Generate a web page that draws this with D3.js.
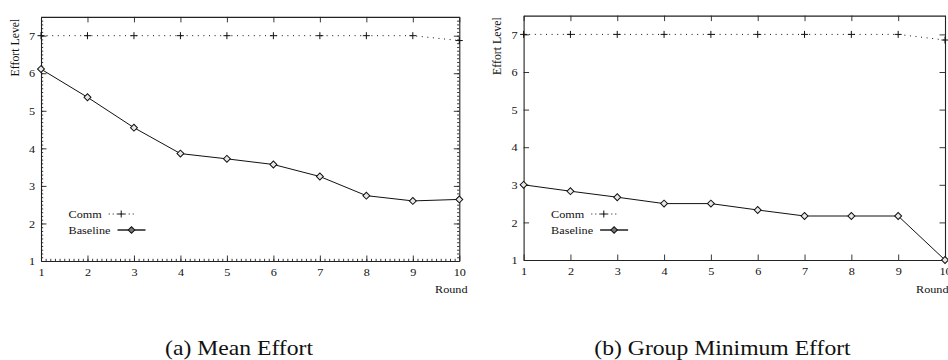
<!DOCTYPE html>
<html>
<head>
<meta charset="utf-8">
<script src="https://cdn.jsdelivr.net/npm/d3@7/dist/d3.min.js"></script>
<style>
  html, body { margin: 0; padding: 0; background: #fff; }
  svg { display: block; }
  text { font-family: "Liberation Serif", "Times New Roman", Times, serif; fill: #111; }
</style>
</head>
<body>
<svg id="fig" width="948" height="360"></svg>
<script>
// Effort level per round, two treatments
const rounds = [1, 2, 3, 4, 5, 6, 7, 8, 9, 10];
const yTickValues = [1, 2, 3, 4, 5, 6, 7];
const seriesNames = ["Comm", "Baseline"];

const meanComm     = [7, 7, 7, 7, 7, 7, 7, 7, 7, 6.87];
const meanBaseline = [6.11, 5.36, 4.55, 3.86, 3.72, 3.57, 3.25, 2.74, 2.60, 2.64];

const minComm      = [7, 7, 7, 7, 7, 7, 7, 7, 7, 6.85];
const minBaseline  = [3.0, 2.83, 2.67, 2.5, 2.5, 2.33, 2.17, 2.17, 2.17, 1.0];

const captions = ["(a) Mean Effort", "(b) Group Minimum Effort"];
const xLabel = "Round";
const yLabel = "Effort Level";

const yDomain = [1, 7.5];
const xDomain = [1, 10];

const panels = [
  { left: 41,    right: 459.3, bottom: 261, top: 16.9, comm: meanComm, base: meanBaseline,
    caption: captions[0], capX: 239, ylabX: 15, ylabY: 47.5, roundX: 435, minor: true },
  { left: 523.6, right: 945,   bottom: 260, top: 15.6, comm: minComm,  base: minBaseline,
    caption: captions[1], capX: 722.5, ylabX: 497, ylabY: 46, roundX: 916, minor: false }
];

const SX = 1.13;   // horizontal glyph stretch
const fmt = d3.format("d");
const svg = d3.select("#fig");

panels.forEach(p => {
  const x = d3.scaleLinear().domain(xDomain).range([p.left, p.right]);
  const y = d3.scaleLinear().domain(yDomain).range([p.bottom, p.top]);
  const g = svg.append("g");

  // minor ticks
  if (p.minor) {
    const mx = d3.range(11, 100).map(v => v / 10);
    const my = d3.range(11, 75).map(v => v / 10);
    g.append("g").attr("transform", `translate(0,${p.bottom})`)
      .call(d3.axisBottom(x).tickValues(mx).tickSize(-2.2).tickFormat(""))
      .call(a => a.select(".domain").remove());
    g.append("g").attr("transform", `translate(${p.left},0)`)
      .call(d3.axisLeft(y).tickValues(my).tickSize(-2.2).tickFormat(""))
      .call(a => a.select(".domain").remove());
    g.append("g").attr("transform", `translate(${p.right},0)`)
      .call(d3.axisRight(y).tickValues(my).tickSize(-2.2).tickFormat(""))
      .call(a => a.select(".domain").remove());
  }

  // major axes (ticks point inward)
  const xb = g.append("g").attr("transform", `translate(0,${p.bottom})`)
    .call(d3.axisBottom(x).tickValues(rounds).tickFormat(fmt).tickSize(-5.5).tickSizeOuter(0).tickPadding(0));
  const yl = g.append("g").attr("transform", `translate(${p.left},0)`)
    .call(d3.axisLeft(y).tickValues(yTickValues).tickFormat(fmt).tickSize(-5.5).tickSizeOuter(0).tickPadding(0));
  g.append("g").attr("transform", `translate(0,${p.top})`)
    .call(d3.axisTop(x).tickValues(rounds).tickSize(-5.5).tickSizeOuter(0).tickFormat(""));
  g.append("g").attr("transform", `translate(${p.right},0)`)
    .call(d3.axisRight(y).tickValues(yTickValues).tickSize(-5.5).tickSizeOuter(0).tickFormat(""));

  g.selectAll("g").attr("font-family", null);
  g.selectAll(".domain").attr("stroke", "#222").attr("stroke-width", 1.1);
  g.selectAll(".tick line").attr("stroke", "#222").attr("stroke-width", 0.9);

  xb.selectAll("text")
    .attr("y", null).attr("dy", null)
    .attr("transform", `translate(0,14.5) scale(${SX},1)`)
    .style("font-size", "10.8px").attr("fill", "#111");
  yl.selectAll("text")
    .attr("x", null).attr("dy", null)
    .attr("transform", `translate(-6,3.7) scale(${SX},1)`)
    .style("font-size", "10.8px").attr("fill", "#111");

  // Comm: dotted line with plus markers
  g.append("path")
    .datum(rounds.map((r, i) => [r, p.comm[i]]))
    .attr("fill", "none").attr("stroke", "#111").attr("stroke-width", 1)
    .attr("stroke-dasharray", "1,4.6")
    .attr("d", d3.line().x(d => x(d[0])).y(d => y(d[1])));
  g.selectAll(".plus").data(rounds.map((r, i) => [r, p.comm[i]])).join("path")
    .attr("fill", "none").attr("stroke", "#111").attr("stroke-width", 1)
    .attr("transform", d => `translate(${x(d[0])},${y(d[1])})`)
    .attr("d", d3.symbol(d3.symbolPlus, 18));

  // Baseline: solid line with diamond markers
  g.append("path")
    .datum(rounds.map((r, i) => [r, p.base[i]]))
    .attr("fill", "none").attr("stroke", "#111").attr("stroke-width", 1)
    .attr("d", d3.line().x(d => x(d[0])).y(d => y(d[1])));
  g.selectAll(".diamond").data(rounds.map((r, i) => [r, p.base[i]])).join("path")
    .attr("fill", "#e8e8e8").attr("stroke", "#111").attr("stroke-width", 1)
    .attr("transform", d => `translate(${x(d[0])},${y(d[1])}) rotate(45)`)
    .attr("d", d3.symbol(d3.symbolSquare, 24));

  // legend
  const legRows = [
    { name: seriesNames[0], cy: 214, dashed: true },
    { name: seriesNames[1], cy: 230, dashed: false }
  ];
  legRows.forEach(r => {
    const t = g.append("text")
      .attr("transform", `translate(${p.left + 27.5},${r.cy + 3.7}) scale(${SX},1)`)
      .style("font-size", "10.8px")
      .text(r.name);
    const w = t.node().getComputedTextLength() * SX;
    const s0 = p.left + 27.5 + w + 7;
    const s1 = s0 + (r.dashed ? 25 : 28);
    const mid = (s0 + s1) / 2;
    if (r.dashed) {
      g.append("line").attr("x1", s0).attr("x2", s1).attr("y1", r.cy).attr("y2", r.cy)
        .attr("stroke", "#111").attr("stroke-width", 1).attr("stroke-dasharray", "1,3");
      g.append("path").attr("fill", "none").attr("stroke", "#111").attr("stroke-width", 1)
        .attr("transform", `translate(${mid},${r.cy})`)
        .attr("d", d3.symbol(d3.symbolPlus, 18));
    } else {
      g.append("line").attr("x1", s0).attr("x2", s1).attr("y1", r.cy).attr("y2", r.cy)
        .attr("stroke", "#111").attr("stroke-width", 1.4);
      g.append("path").attr("fill", "#777").attr("stroke", "#111").attr("stroke-width", 1)
        .attr("transform", `translate(${mid},${r.cy}) rotate(45)`)
        .attr("d", d3.symbol(d3.symbolSquare, 22));
    }
  });

  // axis titles
  g.append("text")
    .attr("transform", `translate(${p.roundX},${292.5}) scale(${SX},1)`)
    .style("font-size", "10.8px")
    .text(xLabel);
  g.append("text")
    .attr("transform", `translate(${p.ylabX + 4},${p.ylabY}) rotate(-90)`)
    .attr("text-anchor", "middle")
    .style("font-size", "11.8px")
    .text(yLabel);

  // caption
  g.append("text")
    .attr("transform", `translate(${p.capX},355) scale(1.1,1)`)
    .attr("text-anchor", "middle")
    .style("font-size", "21.5px")
    .text(p.caption);
});
</script>
</body>
</html>
